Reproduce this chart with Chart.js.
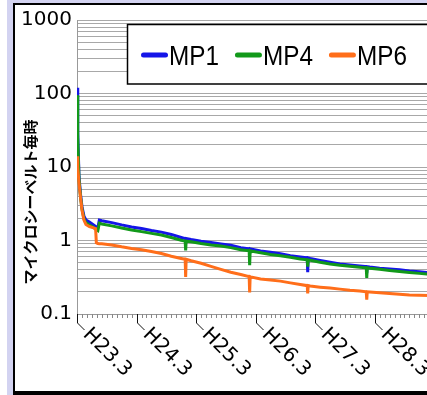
<!DOCTYPE html>
<html><head><meta charset="utf-8">
<script src="https://cdn.jsdelivr.net/npm/chart.js@4"></script>
<style>
html,body{margin:0;padding:0;width:427px;height:395px;overflow:hidden;background:#fff;}
#lav{position:absolute;left:7px;top:0;width:600px;height:395px;background:#d3d3f1;}
#panel{position:absolute;left:13px;top:3px;width:600px;height:386px;background:#fff;border:2px solid #000;border-bottom-width:4px;}
canvas{position:absolute;left:0;top:0;}
</style></head>
<body><div id="lav"></div><div id="panel"></div><canvas id="c" width="480" height="395"></canvas>
<script>
// months since H23.3 (March 2011)
const months = [0, 0.15, 0.4, 0.7, 1.0, 1.4, 1.8, 2.5, 3.2, 3.75, 3.9, 4.2, 4.5,
  5, 7, 9, 11, 13, 15, 17, 19, 21,
  21.8, 21.9, 22.0,
  23, 25, 27, 29, 31, 33,
  34.7, 34.8, 34.9,
  35, 37, 39, 41, 43, 45,
  46.4, 46.5, 46.6,
  47, 49, 51, 53, 55, 57,
  58.3, 58.4, 58.5,
  59, 61, 63, 65, 67, 69, 71, 73, 75, 78];
const mp1 = [120, 30, 7.5, 4.3, 2.9, 2.15, 1.9, 1.78, 1.65, 1.55, 1.52, 1.48, 1.9,
  1.86, 1.75, 1.63, 1.53, 1.46, 1.37, 1.30, 1.21, 1.10,
  1.06, 0.92, 1.06,
  1.03, 0.98, 0.94, 0.90, 0.86, 0.80,
  0.77, 0.70, 0.77,
  0.765, 0.72, 0.69, 0.66, 0.62, 0.595,
  0.58, 0.37, 0.58,
  0.57, 0.535, 0.505, 0.48, 0.465, 0.45,
  0.44, 0.36, 0.44,
  0.435, 0.42, 0.41, 0.40, 0.385, 0.375, 0.365, 0.358, 0.352, 0.345];
const mp4 = [95, 25, 6.8, 4.0, 2.7, 1.98, 1.74, 1.62, 1.52, 1.43, 1.40, 1.36, 1.72,
  1.68, 1.58, 1.48, 1.39, 1.32, 1.25, 1.19, 1.10, 1.01,
  0.98, 0.73, 0.98,
  0.96, 0.91, 0.87, 0.84, 0.80, 0.75,
  0.725, 0.46, 0.725,
  0.72, 0.68, 0.645, 0.62, 0.59, 0.56,
  0.545, 0.44, 0.545,
  0.54, 0.505, 0.48, 0.46, 0.445, 0.432,
  0.425, 0.31, 0.425,
  0.42, 0.405, 0.392, 0.38, 0.368, 0.357, 0.348, 0.342, 0.337, 0.33];
const mp6 = [14, 10, 6.0, 3.9, 2.6, 1.9, 1.65, 1.55, 1.5, 1.45, 0.93, 0.91, 0.90,
  0.90, 0.87, 0.82, 0.78, 0.75, 0.71, 0.665, 0.61, 0.57,
  0.555, 0.32, 0.555,
  0.53, 0.49, 0.445, 0.405, 0.37, 0.345,
  0.322, 0.196, 0.322,
  0.32, 0.30, 0.29, 0.28, 0.265, 0.252,
  0.243, 0.19, 0.243,
  0.24, 0.232, 0.225, 0.218, 0.21, 0.205,
  0.20, 0.157, 0.20,
  0.199, 0.195, 0.19, 0.186, 0.182, 0.18, 0.178, 0.175, 0.172, 0.17];
const seriesNames = ['MP1', 'MP4', 'MP6'];
const seriesColors = ['#1515e8', '#12991a', '#ff6e1a'];
const xTickMonths = [0, 12, 24, 36, 48, 60, 72];
const xTickLabels = ['H23.3', 'H24.3', 'H25.3', 'H26.3', 'H27.3', 'H28.3', 'H29.3'];
const yTickValues = [0.1, 1, 10, 100, 1000];
const yTickLabels = ['0.1', '1', '10', '100', '1000'];
const yTitle = 'マイクロシーベルト毎時';
const xMax = 78;

const gridValues = [];
for (let d = 0; d < yTickValues.length - 1; d++) {
  for (let k = 1; k <= 9; k++) gridValues.push(+(yTickValues[d] * k).toPrecision(6));
}
gridValues.push(yTickValues[yTickValues.length - 1]);

function toPts(vals) { return months.map((m, i) => ({x: m, y: vals[i]})); }

const decor = {
  id: 'decor',
  afterDraw(chart) {
    const ctx = chart.ctx, ca = chart.chartArea, xs = chart.scales.x;
    ctx.save();
    const b = ca.bottom;
    ctx.lineWidth = 1;
    ctx.strokeStyle = '#888';
    ctx.beginPath();
    for (let m = 0; m <= xMax; m++) {
      if (xTickMonths.includes(m)) continue;
      const px = Math.round(xs.getPixelForValue(m)) + 0.5;
      ctx.moveTo(px, b); ctx.lineTo(px, b + 4);
    }
    ctx.stroke();
    ctx.strokeStyle = '#111';
    ctx.fillStyle = '#000';
    ctx.font = '20px "DejaVu Sans"';
    ctx.textBaseline = 'middle';
    ctx.textAlign = 'left';
    xTickMonths.forEach((m, i) => {
      const px = Math.round(xs.getPixelForValue(m)) + 0.5;
      ctx.beginPath();
      ctx.moveTo(px, b); ctx.lineTo(px, b + 9); ctx.lineTo(px + 7, b + 16);
      ctx.stroke();
      ctx.save();
      ctx.translate(px, b + 9);
      ctx.rotate(Math.PI / 4);
      ctx.fillText(xTickLabels[i], 12, 0);
      ctx.restore();
    });
    ctx.save();
    ctx.translate(30, 202);
    ctx.rotate(-Math.PI / 2);
    ctx.textAlign = 'center';
    ctx.textBaseline = 'middle';
    ctx.font = 'bold 15px "Noto Sans CJK JP"';
    ctx.fillText(yTitle, 0, 0);
    ctx.restore();
    ctx.fillStyle = '#fff';
    ctx.fillRect(127, 24, 340, 60);
    ctx.strokeStyle = '#000';
    ctx.lineWidth = 1.5;
    ctx.strokeRect(127.5, 24.5, 340, 59.5);
    let lx = 141;
    ctx.font = '27px "Liberation Sans"';
    ctx.textBaseline = 'alphabetic';
    ctx.textAlign = 'left';
    seriesNames.forEach((n, i) => {
      ctx.strokeStyle = seriesColors[i];
      ctx.lineWidth = 5;
      ctx.lineCap = 'round';
      ctx.beginPath(); ctx.moveTo(lx + 2.5, 55); ctx.lineTo(lx + 24.5, 55); ctx.stroke();
      const tx = lx + 28;
      ctx.save();
      ctx.translate(tx, 65);
      ctx.scale(0.9, 1);
      ctx.fillStyle = '#000';
      ctx.fillText(n, 0, 0);
      ctx.restore();
      const w = ctx.measureText(n).width * 0.9;
      lx = tx + w + 16;
    });
    ctx.restore();
  }
};

new Chart(document.getElementById('c'), {
  type: 'line',
  data: {
    datasets: seriesNames.map((n, i) => ({
      label: n,
      data: toPts([mp1, mp4, mp6][i]),
      borderColor: seriesColors[i],
      backgroundColor: seriesColors[i],
      borderWidth: 3,
      pointRadius: 0,
      tension: 0,
      order: 3 - i
    }))
  },
  options: {
    responsive: false,
    devicePixelRatio: 1,
    animation: false,
    layout: {padding: {top: 20, right: 16, bottom: 0, left: 0}},
    plugins: {legend: {display: false}, tooltip: {enabled: false}},
    scales: {
      x: {
        type: 'linear', min: 0, max: xMax,
        ticks: {display: false},
        grid: {display: false},
        border: {display: true, color: '#999', width: 1},
        afterFit: s => { s.height = 81; }
      },
      y: {
        type: 'logarithmic', min: 0.1, max: 1000, position: 'left',
        afterBuildTicks: s => { s.ticks = gridValues.map(v => ({value: v})); },
        afterFit: s => { s.width = 77; },
        grid: {color: '#a8a8a8', lineWidth: 1, drawTicks: false},
        border: {display: true, color: '#999', width: 1},
        ticks: {
          autoSkip: false, padding: 5, color: '#000',
          font: {family: 'DejaVu Sans', size: 20},
          callback: v => {
            const i = yTickValues.findIndex(t => Math.abs(t - v) / t < 1e-6);
            return i >= 0 ? yTickLabels[i] : '';
          }
        }
      }
    }
  },
  plugins: [decor]
});
</script>
</body></html>
